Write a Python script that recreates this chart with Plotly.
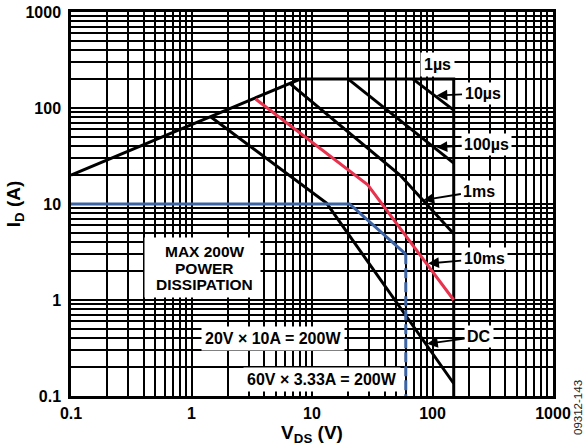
import numpy as np
import plotly.graph_objects as go

# outer SOA boundary (Rds(on) limit, Id max, Vds max)
limit_v = [0.1, 8, 150, 150]
limit_i = [20, 200, 200, 0.1]

# pulse width curves
us10_v = [69, 150]
us10_i = [200, 95]
us100_v = [20, 150]
us100_i = [200, 26.7]
ms1_v = [6.5, 53.7, 150]
ms1_i = [182, 20, 4.9]
ms10_v = [3.4, 29, 150]
ms10_i = [124, 15.8, 1.0]
dc_v = [1.44, 13.2, 150]
dc_i = [81, 10.2, 0.135]

# max power dissipation example
pmax_v = [0.1, 20.5, 60]
pmax_i = [10, 10, 3.0]
vmax_v = [60, 60]
vmax_i = [3.0, 0.1]

decade_labels = {0.1: '0.1', 1: '1', 10: '10', 100: '100', 1000: '1000'}
grid_vals = [round(m * 10.0 ** e, 1) for e in range(-1, 3) for m in range(1, 10)] + [1000]
grid_text = [decade_labels.get(v, '') for v in grid_vals]

# curve labels: text, arrow head (V, A), text offset in px
arrow_labels = [
    ('10µs', 108, 135, 46, -2),
    ('100µs', 108, 39, 50, -3),
    ('1ms', 84, 11, 56, -9),
    ('10ms', 92, 2.4, 56, -5),
    ('DC', 90, 0.35, 52, -7),
]
box_labels = [
    ('1µs', 111, 287),
    ('20V × 10A = 200W', 4.74, 0.40),
    ('60V × 3.33A = 200W', 12.1, 0.15),
]
# stacked note inside a white box
note_lines = [('MAX 200W', 3.22), ('POWER', 2.14), ('DISSIPATION', 1.46)]
note_x = 1.29

fig = go.Figure()

black_curves = [(limit_v, limit_i), (us10_v, us10_i), (us100_v, us100_i),
                (ms1_v, ms1_i), (dc_v, dc_i)]
for xs, ys in black_curves:
    fig.add_trace(go.Scatter(x=xs, y=ys, mode='lines',
                             line=dict(color='black', width=3)))

fig.add_trace(go.Scatter(x=ms10_v, y=ms10_i, mode='lines',
                         line=dict(color='#e8334f', width=3)))
fig.add_trace(go.Scatter(x=pmax_v, y=pmax_i, mode='lines',
                         line=dict(color='#3c64a4', width=3)))
fig.add_trace(go.Scatter(x=vmax_v, y=vmax_i, mode='lines',
                         line=dict(color='#3c64a4', width=3, dash='10px,4px')))

annotations = []
for txt, hx, hy, ax, ay in arrow_labels:
    annotations.append(dict(x=np.log10(hx), y=np.log10(hy), xref='x', yref='y',
                            text=txt, showarrow=True, ax=ax, ay=ay,
                            arrowhead=2, arrowsize=1.2, arrowwidth=1.8,
                            arrowcolor='black', bgcolor='white', borderpad=2))
for txt, tx, ty in box_labels:
    annotations.append(dict(x=np.log10(tx), y=np.log10(ty), xref='x', yref='y',
                            text=txt, showarrow=False, bgcolor='white',
                            borderpad=3))
annotations.append(dict(x=np.log10(1.23), y=np.log10(2.18), xref='x', yref='y',
                        text=' ', showarrow=False, bgcolor='white',
                        width=115, height=59, borderpad=0))
for txt, ty in note_lines:
    annotations.append(dict(x=np.log10(note_x), y=np.log10(ty), xref='x', yref='y',
                            text=txt, showarrow=False, font=dict(size=15.5)))
annotations.append(dict(x=1.052, y=-0.031, xref='paper', yref='paper',
                        xanchor='center', yanchor='middle',
                        text='09312-143', textangle=-90, showarrow=False,
                        font=dict(size=11.5, color='#222', weight='normal')))

axis_style = dict(type='log', range=[-1, 3], tickvals=grid_vals, ticktext=grid_text,
                  showgrid=True, gridcolor='black', gridwidth=1.5,
                  showline=True, linecolor='black', linewidth=2.5, mirror=True,
                  ticks='', zeroline=False, automargin=False)

fig.update_layout(
    width=587, height=447,
    margin=dict(l=71, r=34, t=12, b=51),
    plot_bgcolor='white', paper_bgcolor='white',
    showlegend=False,
    font=dict(family='Arial, Liberation Sans, sans-serif', size=16,
              color='black', weight='bold'),
    xaxis=dict(axis_style, ticklabelstandoff=1,
               title=dict(text='V<sub>DS</sub> (V)', standoff=2)),
    yaxis=dict(axis_style, ticklabelstandoff=4,
               title=dict(text='I<sub>D</sub> (A)', standoff=0)),
    annotations=annotations,
)

# drop the default page margin so the figure sits at the window corner
fig.write_html("out.html", config={'displayModeBar': False},
               post_script="document.body.style.margin='0';")
